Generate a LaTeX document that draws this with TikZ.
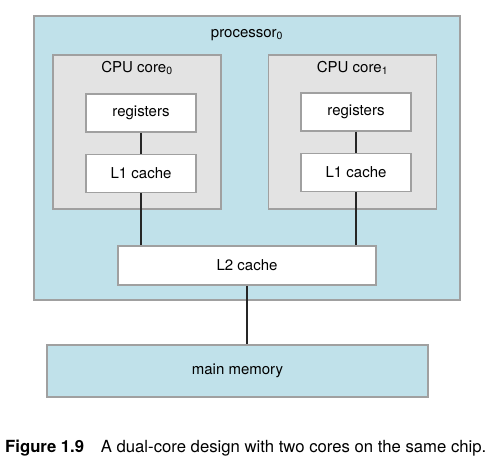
\documentclass[tikz,border=0pt]{standalone}
\usepackage{fontspec}
\setmainfont{TeX Gyre Heros}
\usetikzlibrary{positioning}
\definecolor{chipblue}{RGB}{192,225,234}
\definecolor{coregray}{RGB}{227,227,227}
\definecolor{edgegray}{RGB}{160,160,160}
\tikzset{
  chip/.style={
    rectangle,
    inner sep=0pt,
    draw=edgegray,
    line width=1.3pt,
    fill=chipblue
    },
  core/.style={
    rectangle,
    inner sep=0pt,
    minimum width=168pt,
    minimum height=154pt,
    draw=edgegray,
    line width=1.3pt,
    fill=coregray
    },
  unit/.style={
    rectangle,
    inner sep=0pt,
    minimum width=110pt,
    minimum height=38pt,
    align=center,
    draw=edgegray,
    line width=1.3pt,
    fill=white,
    font=\fontsize{15}{17}\selectfont
    },
  boxlabel/.style={
    anchor=base,
    inner sep=0pt,
    font=\fontsize{15}{17}\selectfont
    },
  wire/.style={line width=1.8pt,black!85},
}

\begin{document}
\begin{tikzpicture}[x=1pt,y=-1pt]
\useasboundingbox (0,0) rectangle (500,471);
% processor chip
\node (processor) [chip,minimum width=426pt,minimum height=284pt] at (247,158) {};
\node (proclabel) [boxlabel] at (247,37.5) {processor\textsubscript{0}};
% the two cores
\node (core0) [core] at (137,132) {};
\node (core1) [core] at (352.5,132) {};
\node (corelabel0) [boxlabel] at (137,72.5) {CPU core\textsubscript{0}};
\node (corelabel1) [boxlabel] at (352.5,72) {CPU core\textsubscript{1}};
\node (reg0) [unit] at (141,113) {registers};
\node (l1c0) [unit,below=21pt of reg0] {L1 cache};
\node (reg1) [unit] at (356,112) {registers};
\node (l1c1) [unit,below=21pt of reg1] {L1 cache};
% shared cache and memory
\node (l2) [unit,minimum width=258pt,minimum height=39pt] at (247,265.5) {L2 cache};
\node (mem) [chip,minimum width=381pt,minimum height=52pt,font=\fontsize{15}{17}\selectfont] at (237.5,371) {main memory};
\draw [wire] (reg0) -- (l1c0);
\draw [wire] (reg1) -- (l1c1);
\draw [wire] (l1c0.south) -- (l1c0.south |- l2.north);
\draw [wire] (l1c1.south) -- (l1c1.south |- l2.north);
\draw [wire] (l2.south) -- (l2.south |- mem.north);
% caption
\node (caption) [anchor=base west,inner sep=0pt,font=\fontsize{16.7}{19}\selectfont] at (5,452)
  {\textbf{Figure 1.9}\quad A dual-core design with two cores on the same chip.};
\end{tikzpicture}
\end{document}
